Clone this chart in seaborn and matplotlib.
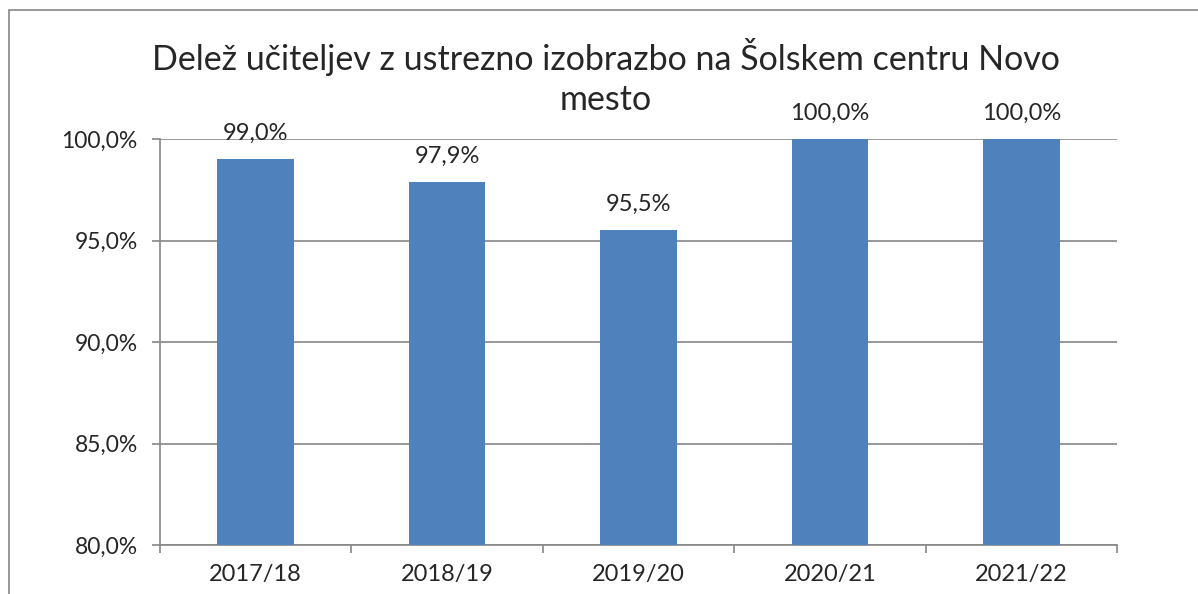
import matplotlib
matplotlib.use("Agg")
import matplotlib.pyplot as plt
import matplotlib.patches as mpatches
from matplotlib.ticker import FuncFormatter, MultipleLocator
import seaborn as sns
import pandas as pd

# podatki
leta = ["2017/18", "2018/19", "2019/20", "2020/21", "2021/22"]
delez = [99.0, 97.9, 95.5, 100.0, 100.0]
naslov_1 = "Delež učiteljev z ustrezno izobrazbo na Šolskem centru Novo"
naslov_2 = "mesto"

df = pd.DataFrame({"leto": leta, "delez": delez})

sns.set_theme(style="white")
plt.rcParams["font.family"] = ["Lato", "DejaVu Sans"]

fig = plt.figure(figsize=(11.98, 5.94), dpi=100)
ax = fig.add_axes([160 / 1198, 1 - 545 / 594, (1117 - 160) / 1198, (545 - 139) / 594])

sns.barplot(data=df, x="leto", y="delez", color="#4f81bd", width=0.4,
            saturation=1, linewidth=0, ax=ax, zorder=3)

ax.set_ylim(80, 100)
ax.set_xlim(-0.5, len(leta) - 0.5)
ax.yaxis.set_major_locator(MultipleLocator(5))
ax.yaxis.set_major_formatter(FuncFormatter(lambda v, p: f"{v:.1f}%".replace(".", ",")))
ax.grid(axis="y", color="#868686", linewidth=1.2, zorder=0)
ax.set_axisbelow(True)

for s in ["top", "right"]:
    ax.spines[s].set_visible(False)
for s in ["left", "bottom"]:
    ax.spines[s].set_color("#868686")
    ax.spines[s].set_linewidth(1.2)

# kljukice med kategorijami, oznake na sredini
ax.set_xticks([i - 0.5 for i in range(len(leta) + 1)], minor=False)
ax.set_xticklabels([])
ax.set_xticks(range(len(leta)), minor=True)
ax.set_xticklabels(leta, minor=True, fontsize=17)
ax.tick_params(axis="x", which="major", length=6, width=1.2, color="#868686", direction="out", bottom=True)
ax.tick_params(axis="x", which="minor", length=0, pad=14)
ax.tick_params(axis="y", length=6, width=1.2, color="#868686", direction="out", left=True, labelsize=16.5, pad=10)

for i, v in enumerate(delez):
    ax.annotate(f"{v:.1f}%".replace(".", ","), xy=(i, v), xytext=(0, 11),
                textcoords="offset points", ha="center", va="bottom", fontsize=17,
                annotation_clip=False)

ax.set_xlabel("")
ax.set_ylabel("")
fig.text(606 / 1198, 1 - 57 / 594, naslov_1, ha="center", va="center", fontsize=24.5)
fig.text(606 / 1198, 1 - 100 / 594, naslov_2, ha="center", va="center", fontsize=24.5)

# zunanji okvir grafikona
fig.patches.append(mpatches.Rectangle((9 / 1198, -0.1), 1.2, 1 - 10 / 594 + 0.1,
                                      transform=fig.transFigure, fill=False,
                                      edgecolor="#868686", linewidth=1.2))

fig.savefig("out.png", dpi=100)
